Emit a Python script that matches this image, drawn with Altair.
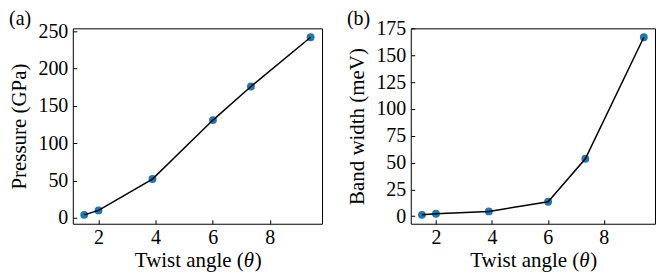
import altair as alt
import pandas as pd

twist = [1.5, 2.0, 3.89, 6.01, 7.34, 9.43]
pressure = [4, 10, 52, 131, 176, 242]
bandwidth = [1.2, 2.2, 4.4, 13.4, 53.6, 167]

x_ticks = [2, 4, 6, 8]
p_ticks = [0, 50, 100, 150, 200, 250]
b_ticks = [0, 25, 50, 75, 100, 125, 150, 175]

x_title_parts = ["Twist angle (", "\u03b8", ")"]

FONT = "Liberation Serif"
H = 196

df = pd.DataFrame({"twist": twist, "pressure": pressure, "bandwidth": bandwidth})


def axis(vals, title, orient):
    kw = dict(values=vals, grid=False, domain=False,
              offset=-4, tickSize=4, tickColor="black", tickWidth=1,
              labelFont=FONT, labelFontSize=20, labelColor="black")
    if orient == "left":
        kw.update(title=title, labelPadding=5, titlePadding=8,
                  titleFont=FONT, titleFontSize=21, titleFontWeight="normal",
                  titleColor="black")
    else:
        kw.update(title=None, labelPadding=4)
    return alt.Axis(**kw)


def label_mark(text, x, y, align="left", style="normal", size=21):
    return alt.Chart(pd.DataFrame({"t": [text]})).mark_text(
        font=FONT, fontSize=size, align=align, baseline="alphabetic",
        color="black", fontStyle=style
    ).encode(text="t:N", x=alt.value(x), y=alt.value(y))


def panel(field, ytitle, yticks, ydomain, label, width):
    base = alt.Chart(df)
    x = alt.X("twist:Q", scale=alt.Scale(domain=[1.10, 9.83], nice=False, zero=False),
              axis=axis(x_ticks, None, "bottom"))
    y = alt.Y(f"{field}:Q", scale=alt.Scale(domain=ydomain, nice=False, zero=False),
              axis=axis(yticks, ytitle, "left"))
    pts = base.mark_circle(size=62, color="#1f77b4", opacity=1).encode(x=x, y=y)
    line = base.mark_line(color="black", strokeWidth=1.5).encode(x=x, y=y, order="twist:Q")
    panel_lbl = label_mark(label, -64, -3, size=20)
    cx = width / 2
    by = H + 43
    t1 = label_mark(x_title_parts[0], cx + 46.5, by, align="right")
    t2 = label_mark(x_title_parts[1], cx + 46.5, by, align="left", style="italic")
    t3 = label_mark(x_title_parts[2], cx + 57.5, by, align="left")
    return alt.layer(pts, line, panel_lbl, t1, t2, t3).properties(width=width, height=H)


a = panel("pressure", "Pressure (GPa)", p_ticks, [-7.9, 253.9], "(a)", 250)
b = panel("bandwidth", "Band width (meV)", b_ticks, [-7.1, 175.3], "(b)", 245)

chart = alt.hconcat(a, b, spacing=89, bounds="flush").properties(
    padding={"left": 0, "top": 0, "right": 0, "bottom": 0},
    background="white",
).configure_view(
    stroke="black", strokeWidth=1
).configure_axis(
    labelFont=FONT, titleFont=FONT, labelColor="black", titleColor="black"
).configure_text(font=FONT)

chart.save("out.html", embed_options={"renderer": "svg", "actions": False})
